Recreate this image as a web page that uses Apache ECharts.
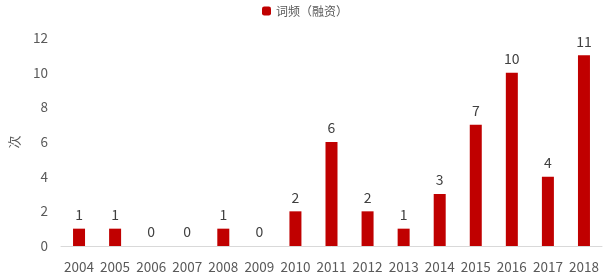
<!DOCTYPE html>
<html><head><meta charset="utf-8">
<script src="https://cdn.jsdelivr.net/npm/echarts@6/dist/echarts.min.js"></script>
<style>html,body{margin:0;padding:0;background:#fff}#c{width:610px;height:275px}</style>
</head><body><div id="c"></div>
<script>
const categories = ['2004','2005','2006','2007','2008','2009','2010','2011','2012','2013','2014','2015','2016','2017','2018'];
const values = [1,1,0,0,1,0,2,6,2,1,3,7,10,4,11];
const seriesName = '词频（融资）';
const chart = echarts.init(document.getElementById('c'));
const font = '"Microsoft YaHei","Noto Sans CJK SC","Noto Sans",sans-serif';
chart.setOption({
  animation: false,
  textStyle: {fontFamily: font},
  legend: {top: 0, left: 'center', itemWidth: 9, itemHeight: 9, itemGap: 4,
    textStyle: {fontSize: 12, color: '#595959', fontFamily: font}, data: [seriesName]},
  grid: {left: 53, right: 8, top: 38, bottom: 29, containLabel: false},
  xAxis: {type: 'category', data: categories,
    axisLine: {lineStyle: {color: '#D9D9D9'}}, axisTick: {show: false},
    axisLabel: {color: '#595959', fontSize: 13.5, margin: 14, interval: 0, fontFamily: font}},
  yAxis: {type: 'value', min: 0, max: 12, interval: 2, name: '次', nameLocation: 'middle', nameGap: 40, nameRotate: 90,
    nameTextStyle: {color: '#595959', fontSize: 13, fontFamily: font},
    axisLine: {show: false}, axisTick: {show: false}, splitLine: {show: false},
    axisLabel: {color: '#595959', fontSize: 13.5, margin: 13, fontFamily: font}},
  series: [{name: seriesName, type: 'bar', data: values, barWidth: 12,
    itemStyle: {color: '#C00000'},
    label: {show: true, position: 'top', distance: 7, color: '#404040', fontSize: 14, fontFamily: font}}]
});
</script></body></html>
